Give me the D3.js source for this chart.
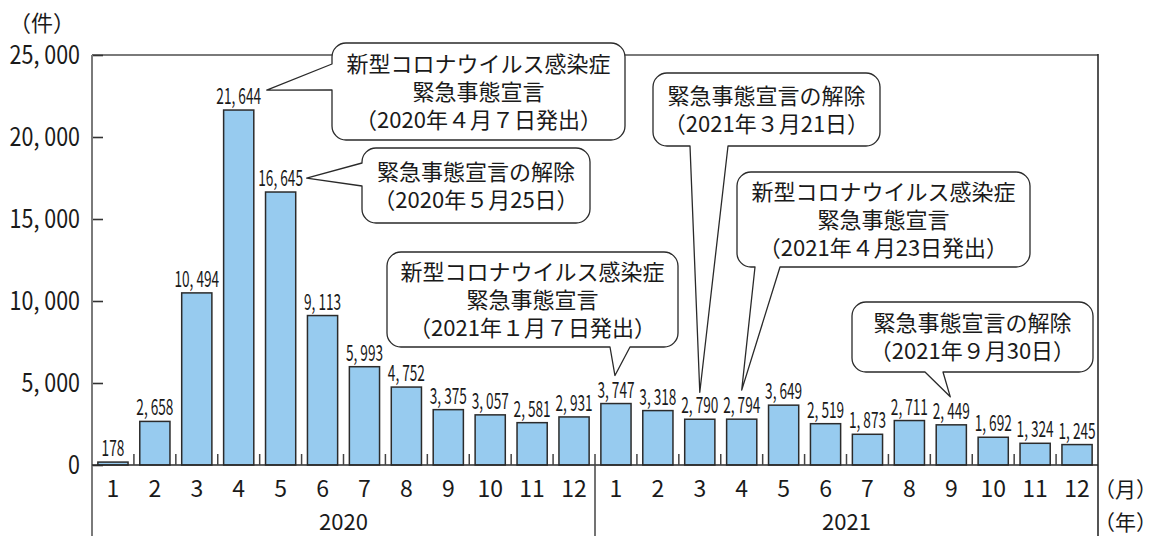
<!DOCTYPE html>
<html lang="ja">
<head>
<meta charset="utf-8">
<script src="https://cdn.jsdelivr.net/npm/d3@7"></script>
<style>
  html, body { margin: 0; padding: 0; background: #fff; }
  svg { display: block; }
  text { font-family: "Noto Sans CJK JP", "Noto Sans", sans-serif; fill: #1a1a1a; }
</style>
</head>
<body>
<svg id="chart" width="1159" height="536"></svg>
<script>
// Monthly counts, 2020–2021
const years = ["2020", "2021"];
const months = ["1", "2", "3", "4", "5", "6", "7", "8", "9", "10", "11", "12"];
const counts2020 = [178, 2658, 10494, 21644, 16645, 9113, 5993, 4752, 3375, 3057, 2581, 2931];
const counts2021 = [3747, 3318, 2790, 2794, 3649, 2519, 1873, 2711, 2449, 1692, 1324, 1245];
const yTicks = [0, 5000, 10000, 15000, 20000, 25000];
const unitLabel = "（件）";
const monthUnit = "（月）";
const yearUnit = "（年）";

// Event notes, each pointing at one month's bar
const noteTexts = [
  ["新型コロナウイルス感染症", "緊急事態宣言", "（2020年４月７日発出）"],
  ["緊急事態宣言の解除", "（2020年５月25日）"],
  ["新型コロナウイルス感染症", "緊急事態宣言", "（2021年１月７日発出）"],
  ["緊急事態宣言の解除", "（2021年３月21日）"],
  ["新型コロナウイルス感染症", "緊急事態宣言", "（2021年４月23日発出）"],
  ["緊急事態宣言の解除", "（2021年９月30日）"]
];
const noteTargets = ["2020-4", "2020-5", "2021-1", "2021-3", "2021-4", "2021-9"];

const seriesByYear = [counts2020, counts2021];
const data = years.flatMap((yr, yi) =>
  months.map((m, mi) => ({ key: yr + "-" + m, year: yr, month: m, value: seriesByYear[yi][mi] }))
);

// ---- layout ----
const plotLeft = 92, plotRight = 1098, plotTop = 55, plotBase = 465, plotBottom = 536;
const svg = d3.select("#chart");

const x = d3.scaleBand()
  .domain(data.map(d => d.key))
  .range([plotLeft, plotRight])
  .paddingInner(0.28)
  .paddingOuter(0.14);
const y = d3.scaleLinear().domain([0, 25000]).range([plotBase, plotTop]);
const step = x.step();
const boundary = i => plotLeft + i * step;
const fmt = v => d3.format(",")(v).replace(",", ", ");

// top border
svg.append("line").attr("x1", plotLeft).attr("x2", plotRight).attr("y1", plotTop).attr("y2", plotTop)
  .attr("stroke", "#7a7a7a").attr("stroke-width", 2);
// right border
svg.append("line").attr("x1", plotRight).attr("x2", plotRight).attr("y1", plotTop - 1).attr("y2", plotBottom)
  .attr("stroke", "#2a2a2a").attr("stroke-width", 1.6);

// y axis
const yAxis = svg.append("g").attr("transform", `translate(${plotLeft},0)`)
  .call(d3.axisRight(y).tickValues(yTicks).tickSize(11).tickFormat(""));
yAxis.select(".domain").remove();
yAxis.selectAll(".tick line").attr("stroke", "#333").attr("stroke-width", 1.6);
svg.append("line").attr("x1", plotLeft).attr("x2", plotLeft).attr("y1", plotTop).attr("y2", plotBottom)
  .attr("stroke", "#7a7a7a").attr("stroke-width", 2);

svg.append("g").selectAll("text").data(yTicks).join("text")
  .attr("transform", d => `translate(80,${y(d) + 9}) scale(0.86,1)`)
  .attr("text-anchor", "end")
  .attr("font-size", 25)
  .text(d => d === 0 ? "0" : fmt(d));

svg.append("text").attr("x", 9).attr("y", 31).attr("font-size", 22).text(unitLabel);

// bars
svg.append("g").selectAll("rect").data(data).join("rect")
  .attr("x", d => x(d.key))
  .attr("y", d => y(d.value))
  .attr("width", x.bandwidth())
  .attr("height", d => plotBase - y(d.value))
  .attr("fill", "#97cbef")
  .attr("stroke", "#2b2b2b")
  .attr("stroke-width", 1.5);

// value labels (condensed figures)
svg.append("g").selectAll("text").data(data).join("text")
  .attr("transform", d => `translate(${x(d.key) + x.bandwidth() / 2},${y(d.value) - 6}) scale(0.62,1)`)
  .attr("text-anchor", "middle")
  .attr("font-size", 22)
  .text(d => fmt(d.value));

// baseline
svg.append("line").attr("x1", plotLeft).attr("x2", plotRight).attr("y1", plotBase).attr("y2", plotBase)
  .attr("stroke", "#2a2a2a").attr("stroke-width", 1.6);

// month separators and year divider
const seps = d3.range(1, data.length);
svg.append("g").selectAll("line").data(seps).join("line")
  .attr("x1", i => boundary(i)).attr("x2", i => boundary(i))
  .attr("y1", plotBase - 11)
  .attr("y2", i => i % months.length === 0 ? plotBottom : plotBase)
  .attr("stroke", "#444").attr("stroke-width", 1.5);

// month labels
svg.append("g").selectAll("text").data(data).join("text")
  .attr("x", d => x(d.key) + x.bandwidth() / 2)
  .attr("y", 497)
  .attr("text-anchor", "middle")
  .attr("font-size", 23)
  .text(d => d.month);

// year labels
svg.append("g").selectAll("text").data(years).join("text")
  .attr("x", (yr, i) => (boundary(i * 12) + boundary(i * 12 + 12)) / 2)
  .attr("y", 529.5)
  .attr("text-anchor", "middle")
  .attr("font-size", 22)
  .text(d => d);

svg.append("text").attr("x", 1094).attr("y", 497).attr("font-size", 21).text(monthUnit);
svg.append("text").attr("x", 1094).attr("y", 529.5).attr("font-size", 21).text(yearUnit);

// ---- callouts ----
// box frame, pointer side and pointer base span, and apex offset from the bar's label
const noteBoxes = [
  { x0: 332, y0: 43, x1: 625, y1: 140, side: "left", t0: 64, t1: 90, dx: 28, dy: -20 },
  { x0: 362, y0: 148, x1: 590, y1: 223, side: "left", t0: 163, t1: 186, dx: 26, dy: -14 },
  { x0: 387, y0: 252, x1: 678, y1: 347, side: "bottom", t0: 610, t1: 630, dx: -1, dy: -28 },
  { x0: 653, y0: 73, x1: 880, y1: 146, side: "bottom", t0: 690, t1: 728, dx: 0, dy: -27 },
  { x0: 737, y0: 172, x1: 1030, y1: 267, side: "bottom", t0: 755, t1: 780, dx: 0, dy: -29 },
  { x0: 852, y0: 302, x1: 1093, y1: 372, side: "bottom", t0: 925, t1: 943, dx: -1, dy: -28 }
];

function calloutPath(b, ax, ay) {
  const r = 14;
  const p = d3.path();
  p.moveTo(b.x0 + r, b.y0);
  p.lineTo(b.x1 - r, b.y0);
  p.arcTo(b.x1, b.y0, b.x1, b.y0 + r, r);
  p.lineTo(b.x1, b.y1 - r);
  p.arcTo(b.x1, b.y1, b.x1 - r, b.y1, r);
  if (b.side === "bottom") {
    p.lineTo(b.t1, b.y1);
    p.lineTo(ax, ay);
    p.lineTo(b.t0, b.y1);
  }
  p.lineTo(b.x0 + r, b.y1);
  p.arcTo(b.x0, b.y1, b.x0, b.y1 - r, r);
  if (b.side === "left") {
    p.lineTo(b.x0, b.t1);
    p.lineTo(ax, ay);
    p.lineTo(b.x0, b.t0);
  }
  p.lineTo(b.x0, b.y0 + r);
  p.arcTo(b.x0, b.y0, b.x0 + r, b.y0, r);
  p.closePath();
  return p.toString();
}

const notesG = svg.append("g");
noteTexts.forEach((lines, i) => {
  const b = noteBoxes[i];
  const d = data.find(e => e.key === noteTargets[i]);
  const ax = x(d.key) + x.bandwidth() / 2 + b.dx;
  const ay = y(d.value) + b.dy;
  const g = notesG.append("g");
  g.append("path")
    .attr("d", calloutPath(b, ax, ay))
    .attr("fill", "#fff")
    .attr("stroke", "#2a2a2a")
    .attr("stroke-width", 1.3)
    .attr("stroke-linejoin", "round");
  const cx = (b.x0 + b.x1) / 2, cy = (b.y0 + b.y1) / 2;
  const lh = 28;
  const firstY = cy - (lines.length - 1) / 2 * lh + 8;
  // one text block per note, one tspan per line
  g.append("text")
    .attr("text-anchor", "middle")
    .attr("font-size", 22)
    .selectAll("tspan").data(lines).join("tspan")
      .attr("x", cx)
      .attr("y", (t, j) => firstY + j * lh)
      .text(t => t);
});
</script>
</body>
</html>
